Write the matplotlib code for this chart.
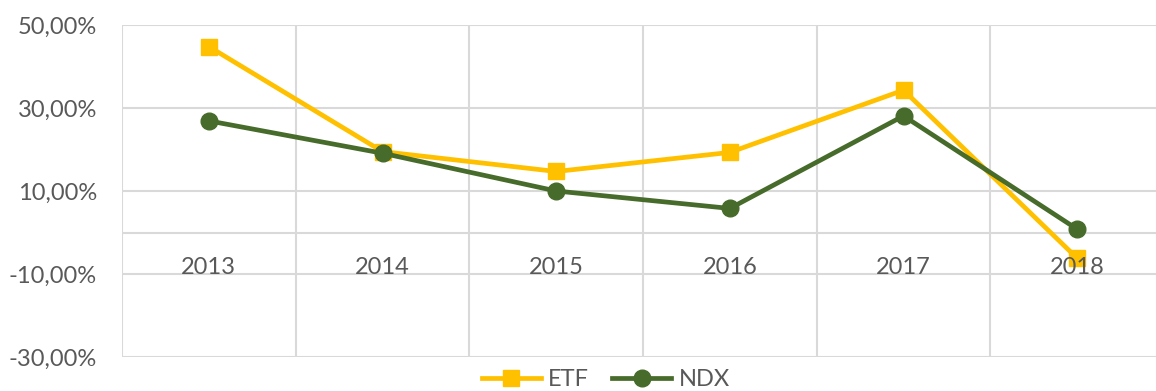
import matplotlib.pyplot as plt
from matplotlib.ticker import FuncFormatter

years = ["2013", "2014", "2015", "2016", "2017", "2018"]
etf = [44.8, 19.5, 14.7, 19.3, 34.3, -6.2]
ndx = [26.9, 19.1, 10.0, 5.8, 28.1, 0.8]
y_ticks = [-30, -10, 10, 30, 50]

etf_color = "#FFC000"
ndx_color = "#466B2A"
grid_color = "#D9D9D9"
text_color = "#595959"

plt.rcParams["font.family"] = ["Lato", "DejaVu Sans"]

fig = plt.figure(figsize=(11.56, 3.91), dpi=100)
ax = fig.add_axes([122 / 1156, 34 / 391, 1042 / 1156, 332 / 391])

x = list(range(len(years)))
ax.plot(x, etf, color=etf_color, lw=3.4, marker="s", ms=12, label="ETF", zorder=3)
ax.plot(x, ndx, color=ndx_color, lw=3.4, marker="o", ms=12, label="NDX", zorder=4)

ax.set_xlim(-0.5, len(years) - 0.5)
ax.set_ylim(-30, 50)
ax.set_yticks(y_ticks)
ax.yaxis.set_major_formatter(FuncFormatter(lambda v, p: f"{v:.2f}%".replace(".", ",")))
ax.tick_params(axis="y", length=0, pad=18, labelsize=17, labelcolor=text_color)
ax.set_xticks([i - 0.5 for i in range(len(years) + 1)])
ax.set_xticklabels([])
ax.tick_params(axis="x", length=0)
ax.grid(True, color=grid_color, lw=1.5, zorder=0)
ax.set_axisbelow(True)
for s in ax.spines.values():
    s.set_visible(False)
ax.axhline(0, color=grid_color, lw=1.5, zorder=1)

# category labels hang just under the zero line
for i, yr in enumerate(years):
    ax.annotate(yr, (i, 0), xytext=(0, -25), textcoords="offset pixels",
                ha="center", va="top", fontsize=17, color=text_color, zorder=6)

fig.legend(loc="center", bbox_to_anchor=(0.524, 0.03), ncol=2, frameon=False,
           fontsize=17, labelcolor=text_color, handlelength=2.5, handletextpad=0.3,
           columnspacing=1.0, borderpad=0.1)

fig.savefig("out.png", dpi=100)
